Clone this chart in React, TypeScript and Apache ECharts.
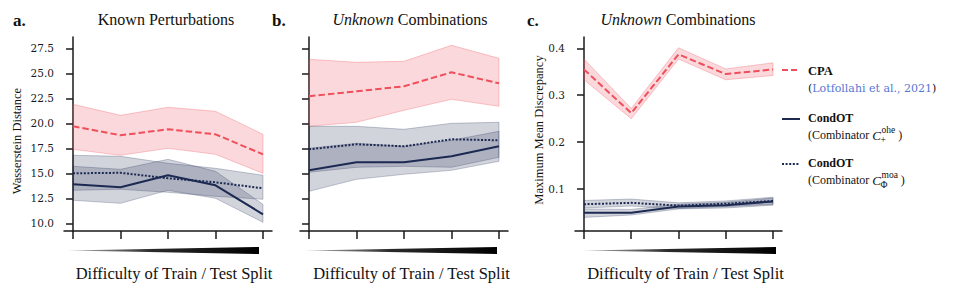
import React, { useEffect, useRef } from "react";
import * as echarts from "echarts";

// ---- data ----
const steps = [0, 1, 2, 3, 4];

// a. Known Perturbations (Wasserstein Distance)
const aCpaMean = [19.7, 18.8, 19.4, 18.9, 16.9];
const aCpaLow = [17.4, 16.8, 17.5, 16.9, 15.0];
const aCpaHigh = [21.9, 20.8, 21.6, 21.2, 18.9];
const aOheMean = [13.9, 13.6, 14.8, 13.8, 10.9];
const aOheLow = [12.3, 12.0, 13.3, 12.5, 10.1];
const aOheHigh = [15.7, 15.4, 16.4, 15.2, 11.9];
const aMoaMean = [15.0, 15.05, 14.5, 14.1, 13.5];
const aMoaLow = [13.3, 13.4, 13.1, 12.7, 12.4];
const aMoaHigh = [16.8, 16.7, 16.0, 15.5, 14.8];

// b. Unknown Combinations (Wasserstein Distance)
const bCpaMean = [22.7, 23.2, 23.7, 25.1, 24.0];
const bCpaLow = [19.7, 20.1, 21.3, 22.4, 21.7];
const bCpaHigh = [26.4, 26.1, 26.2, 27.8, 26.5];
const bOheMean = [15.3, 16.1, 16.1, 16.7, 17.7];
const bOheLow = [13.2, 14.4, 14.9, 15.3, 16.2];
const bOheHigh = [17.5, 18.0, 17.7, 18.3, 19.2];
const bMoaMean = [17.4, 17.9, 17.7, 18.4, 18.3];
const bMoaLow = [15.1, 15.6, 15.7, 15.6, 16.6];
const bMoaHigh = [19.7, 19.7, 19.4, 20.0, 20.1];

// c. Unknown Combinations (Maximum Mean Discrepancy)
const cCpaMean = [0.355, 0.262, 0.387, 0.345, 0.355];
const cCpaLow = [0.333, 0.25, 0.377, 0.333, 0.342];
const cCpaHigh = [0.377, 0.272, 0.401, 0.356, 0.369];
const cOheMean = [0.05, 0.05, 0.063, 0.066, 0.074];
const cOheLow = [0.04, 0.045, 0.058, 0.06, 0.066];
const cOheHigh = [0.058, 0.057, 0.068, 0.072, 0.081];
const cMoaMean = [0.068, 0.071, 0.065, 0.069, 0.075];
const cMoaLow = [0.06, 0.064, 0.059, 0.063, 0.068];
const cMoaHigh = [0.076, 0.079, 0.071, 0.075, 0.083];

const wTicks = [10, 12.5, 15, 17.5, 20, 22.5, 25, 27.5];
const mTicks = [0.1, 0.2, 0.3, 0.4];

const titles = ["Known Perturbations", "Unknown Combinations", "Unknown Combinations"];
const panelLetters = ["a.", "b.", "c."];
const xLabel = "Difficulty of Train / Test Split";
const yLabels = ["Wasserstein Distance", "Maximum Mean Discrepancy"];

// ---- styles ----
const RED = "#ef4f5b";
const NAVY = "#1c2a52";
const RED_FILL = "rgba(239,79,91,0.22)";
const RED_EDGE = "rgba(239,79,91,0.3)";
const NAVY_FILL = "rgba(28,42,82,0.2)";
const NAVY_EDGE = "rgba(28,42,82,0.25)";
const SERIF = "'Liberation Serif', 'Times New Roman', serif";
const DVS = "'DejaVu Serif', serif";
const AXIS = "#1a1a1a";

const pair = (ys: number[]) => steps.map((x, i) => [x, ys[i]]);

function band(idx: number, lo: number[], hi: number[], fill: string, edge: string) {
  return {
    type: "custom",
    xAxisIndex: idx,
    yAxisIndex: idx,
    coordinateSystem: "cartesian2d",
    data: steps.map((x, i) => [x, lo[i], hi[i]]),
    encode: { x: 0, y: [1, 2] },
    silent: true,
    z: 1,
    renderItem: (params: any, api: any) => {
      if (params.dataIndex !== 0) return null;
      const pts: number[][] = [];
      for (let i = 0; i < steps.length; i++) pts.push(api.coord([steps[i], hi[i]]));
      for (let i = steps.length - 1; i >= 0; i--) pts.push(api.coord([steps[i], lo[i]]));
      return {
        type: "polygon",
        shape: { points: pts },
        style: { fill, stroke: edge, lineWidth: 1 },
        silent: true,
      };
    },
  };
}

function meanLine(idx: number, ys: number[], color: string, type: any, width = 2) {
  return {
    type: "line",
    xAxisIndex: idx,
    yAxisIndex: idx,
    data: pair(ys),
    symbol: "none",
    silent: true,
    lineStyle: { color, width, type },
    z: 3,
  };
}

function panelSeries(idx: number, d: number[][]) {
  const [cm, cl, ch, om, ol, oh, mm, ml, mh] = d;
  return [
    band(idx, cl, ch, RED_FILL, RED_EDGE),
    band(idx, ol, oh, NAVY_FILL, NAVY_EDGE),
    band(idx, ml, mh, NAVY_FILL, NAVY_EDGE),
    meanLine(idx, cm, RED, [6.5, 3]),
    meanLine(idx, om, NAVY, "solid"),
    meanLine(idx, mm, NAVY, [2, 1.6]),
  ];
}

const grids = [
  { left: 64, top: 37, width: 208, height: 194 },
  { left: 300, top: 37, width: 208, height: 194 },
  { left: 575, top: 37, width: 207, height: 194 },
];

function measure(text: string, font: string) {
  const c = document.createElement("canvas").getContext("2d");
  if (!c) return text.length * 5;
  c.font = font;
  return c.measureText(text).width;
}

export default function App() {
  const ref = useRef<HTMLDivElement>(null);
  useEffect(() => {
    document.body.style.margin = "0";
    if (!ref.current) return;
    const chart = echarts.init(ref.current, undefined, { renderer: "svg" });

    const xAxis = grids.map((_, i) => ({
      type: "value",
      gridIndex: i,
      min: -0.19,
      max: 4.19,
      axisLine: { show: true, lineStyle: { color: AXIS, width: 1.5 } },
      axisTick: { show: true, customValues: steps, length: 8, lineStyle: { color: AXIS, width: 1.5 } },
      axisLabel: { show: false },
      splitLine: { show: false },
    }));

    const yBase = (i: number, min: number, max: number, ticks: number[], showLabel: boolean, digits: number) => ({
      type: "value",
      gridIndex: i,
      min,
      max,
      axisLine: { show: true, lineStyle: { color: AXIS, width: 1.5 } },
      axisTick: { show: true, customValues: ticks, length: 7, lineStyle: { color: AXIS, width: 1.5 } },
      axisLabel: {
        show: showLabel,
        customValues: ticks,
        margin: 10,
        fontFamily: DVS,
        fontSize: 10.5,
        color: "#1a1a1a",
        formatter: (v: number) => v.toFixed(digits),
      },
      splitLine: { show: false },
    });

    const yAxis = [
      yBase(0, 9.23, 28.63, wTicks, true, 1),
      yBase(1, 9.23, 28.63, wTicks, false, 1),
      yBase(2, 0.011, 0.424, mTicks, true, 1),
    ];

    const series = [
      ...panelSeries(0, [aCpaMean, aCpaLow, aCpaHigh, aOheMean, aOheLow, aOheHigh, aMoaMean, aMoaLow, aMoaHigh]),
      ...panelSeries(1, [bCpaMean, bCpaLow, bCpaHigh, bOheMean, bOheLow, bOheHigh, bMoaMean, bMoaLow, bMoaHigh]),
      ...panelSeries(2, [cCpaMean, cCpaLow, cCpaHigh, cOheMean, cOheLow, cOheHigh, cMoaMean, cMoaLow, cMoaHigh]),
    ];

    const graphics: any[] = [];
    const titleX = [166, 410, 678];
    const letterX = [13, 272, 527];
    const xLabelX = [174, 411.5, 685.5];
    const wedgeX = [
      [67, 259],
      [305, 497],
      [583, 776],
    ];
    for (let i = 0; i < 3; i++) {
      graphics.push({
        type: "text",
        x: letterX[i],
        y: 20,
        style: { text: panelLetters[i], fontFamily: SERIF, fontSize: 17, fontWeight: "bold", fill: "#111", align: "left", verticalAlign: "middle" },
      });
      graphics.push({
        type: "text",
        x: titleX[i],
        y: 19,
        style: {
          text: i === 0 ? titles[i] : "{i|Unknown} Combinations",
          rich: { i: { fontFamily: SERIF, fontSize: 16, fontStyle: "italic", fill: "#111" } },
          fontFamily: SERIF,
          fontSize: 16,
          fill: "#111",
          align: "center",
          verticalAlign: "middle",
        },
      });
      graphics.push({
        type: "text",
        x: xLabelX[i],
        y: 273,
        style: { text: xLabel, fontFamily: SERIF, fontSize: 16.5, fill: "#111", align: "center", verticalAlign: "middle" },
      });
      const [x0, x1] = wedgeX[i];
      graphics.push({
        type: "polygon",
        shape: { points: [[x0, 250.5], [x1, 247], [x1, 254]] },
        style: {
          fill: new echarts.graphic.LinearGradient(0, 0, 1, 0, [
            { offset: 0, color: "#b5b5b5" },
            { offset: 0.45, color: "#2a2a2a" },
            { offset: 1, color: "#000" },
          ]),
        },
      });
    }
    graphics.push({
      type: "text",
      x: 17,
      y: 141,
      rotation: Math.PI / 2,
      style: { text: yLabels[0], fontFamily: SERIF, fontSize: 12.5, fill: "#111", align: "center", verticalAlign: "middle" },
    });
    graphics.push({
      type: "text",
      x: 539,
      y: 130,
      rotation: Math.PI / 2,
      style: { text: yLabels[1], fontFamily: SERIF, fontSize: 12.5, fill: "#111", align: "center", verticalAlign: "middle" },
    });

    // legend
    const lx = 782;
    const tx = 808;
    graphics.push({ type: "line", shape: { x1: lx, y1: 70, x2: lx + 18, y2: 70 }, style: { stroke: RED, lineWidth: 2, lineDash: [6, 3] } });
    graphics.push({ type: "line", shape: { x1: lx, y1: 119, x2: lx + 18, y2: 119 }, style: { stroke: NAVY, lineWidth: 2 } });
    graphics.push({ type: "line", shape: { x1: lx, y1: 164, x2: lx + 18, y2: 164 }, style: { stroke: NAVY, lineWidth: 2, lineDash: [2, 1.6] } });
    graphics.push({
      type: "text",
      x: tx,
      y: 71,
      style: { text: "CPA", fontFamily: SERIF, fontSize: 12.5, fontWeight: "bold", fill: "#111", align: "left", verticalAlign: "middle" },
    });
    graphics.push({
      type: "text",
      x: tx,
      y: 88,
      style: {
        text: "({b|Lotfollahi et al., 2021})",
        rich: { b: { fontFamily: DVS, fontSize: 11, fill: "#5676d3" } },
        fontFamily: DVS,
        fontSize: 11,
        fill: "#111",
        align: "left",
        verticalAlign: "middle",
      },
    });
    const combos = [
      { y: 118, sup: "ohe", sub: "+" },
      { y: 163, sup: "moa", sub: "Φ" },
    ];
    const mainFont = `12px ${SERIF}`;
    const w1 = measure("(Combinator ", mainFont);
    const wC = measure("C", `italic 13px ${SERIF}`);
    combos.forEach((cb) => {
      graphics.push({
        type: "text",
        x: tx,
        y: cb.y,
        style: { text: "CondOT", fontFamily: SERIF, fontSize: 12, fontWeight: "bold", fill: "#111", align: "left", verticalAlign: "middle" },
      });
      const ly = cb.y + 17;
      graphics.push({
        type: "text",
        x: tx,
        y: ly,
        style: { text: "(Combinator ", fontFamily: SERIF, fontSize: 12, fill: "#111", align: "left", verticalAlign: "middle" },
      });
      graphics.push({
        type: "text",
        x: tx + w1,
        y: ly,
        style: { text: "C", fontFamily: SERIF, fontSize: 13, fontStyle: "italic", fill: "#111", align: "left", verticalAlign: "middle" },
      });
      const sx = tx + w1 + wC + 0.5;
      const wSup = measure(cb.sup, `9.5px ${SERIF}`);
      const wSub = measure(cb.sub, `9.5px ${SERIF}`);
      graphics.push({
        type: "text",
        x: sx,
        y: ly - 5,
        style: { text: cb.sup, fontFamily: SERIF, fontSize: 9.5, fill: "#111", align: "left", verticalAlign: "middle" },
      });
      graphics.push({
        type: "text",
        x: sx - 1,
        y: ly + 4.5,
        style: { text: cb.sub, fontFamily: SERIF, fontSize: 9.5, fill: "#111", align: "left", verticalAlign: "middle" },
      });
      graphics.push({
        type: "text",
        x: sx + Math.max(wSup, wSub) + 3,
        y: ly,
        style: { text: ")", fontFamily: SERIF, fontSize: 12, fill: "#111", align: "left", verticalAlign: "middle" },
      });
    });

    chart.setOption({
      animation: false,
      backgroundColor: "#fff",
      grid: grids,
      xAxis,
      yAxis,
      series,
      graphic: graphics,
    });
    return () => chart.dispose();
  }, []);
  return <div ref={ref} style={{ position: "absolute", left: 0, top: 0, width: 955, height: 294 }} />;
}
